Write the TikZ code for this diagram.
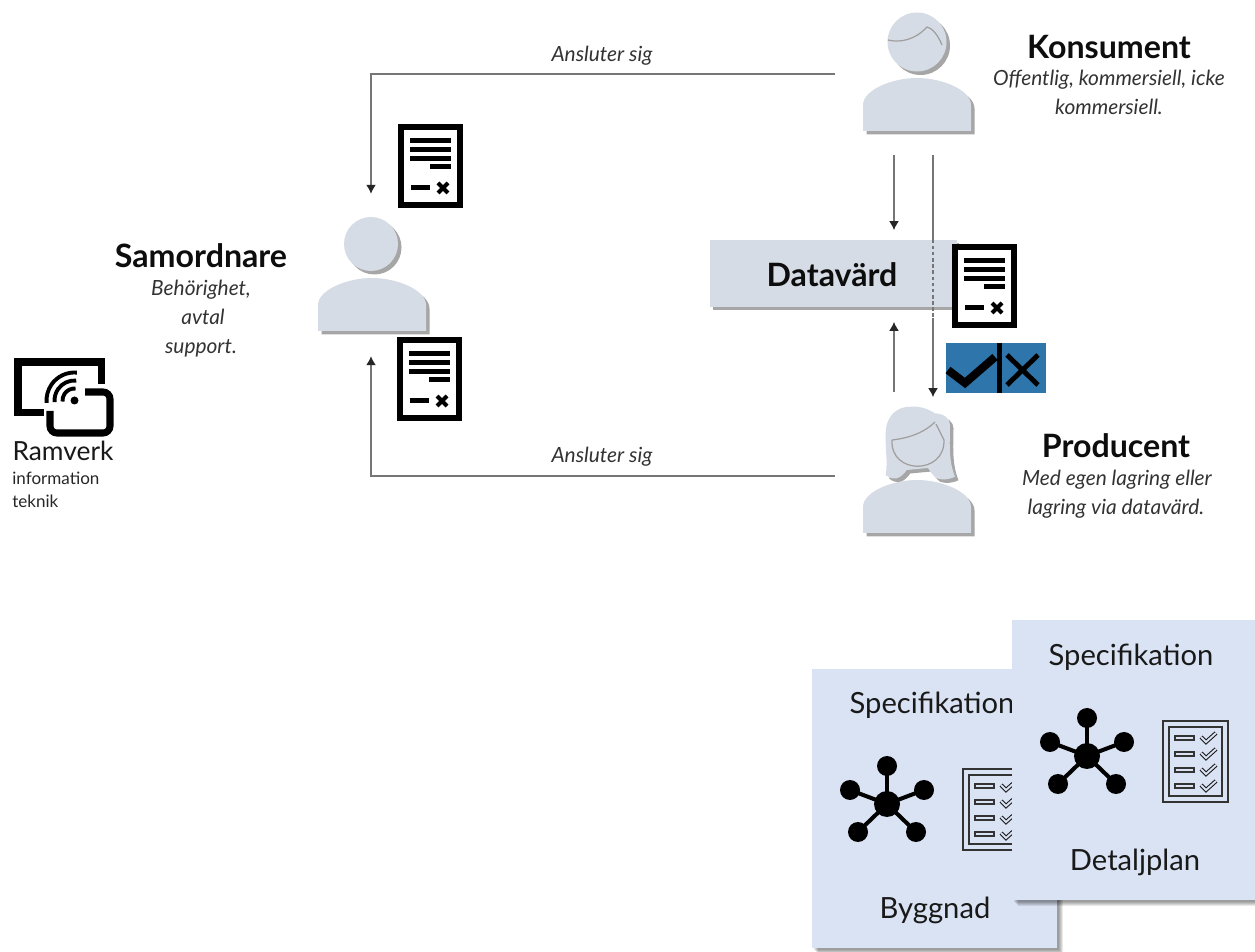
\documentclass[tikz,border=0pt]{standalone}
\usepackage{fontspec}
\setmainfont{Lato}
\usetikzlibrary{arrows.meta,calc,shadows}
\definecolor{personfill}{HTML}{D6DCE5}
\definecolor{panelfill}{HTML}{DAE3F3}
\definecolor{badgeblue}{HTML}{2E75AB}
\definecolor{flowgray}{HTML}{767676}
\tikzset{
    persondrop/.style={fill=personfill, drop shadow={shadow xshift=0.07cm, shadow yshift=-0.07cm, opacity=0.35, fill=black}},
    pics/body/.style={code={
        \fill[persondrop] (-54,53) -- (-54,27) .. controls (-54,12) and (-25,0) .. (0,0)
            .. controls (25,0) and (54,12) .. (54,27) -- (54,53) -- cycle;
    }},
    pics/docicon/.style={code={
        \draw[line width=3.4pt, fill=white] (3,3) rectangle (62,81);
        \foreach \y in {14,23,32} {
            \fill (12,\y) rectangle (53,\y+5);
        }
        \fill (32,40) rectangle (53,45);
        \fill (13,61) rectangle (32,66);
        \draw[line width=2.4pt] (40,59) -- (50,69);
        \draw[line width=2.4pt] (40,69) -- (50,59);
    }},
    pics/hubicon/.style={code={
        \foreach \x/\y in {0/-38, -37/-14, 37/-14, -29/28, 29/28} {
            \draw[line width=2.3pt] (0,0) -- (\x,\y);
            \fill (\x,\y) circle (10);
        }
        \fill (0,0) circle (13);
    }},
    pics/listicon/.style={code={
        \draw[black!80, line width=0.6pt] (0,0) rectangle (65,81);
        \draw[black!80, line width=0.8pt] (6,6) rectangle (59,75);
        % rows of the list
        \foreach \y in {17,33,49,65} {
            \draw[black!80, line width=0.6pt] (12,\y-2) rectangle (31,\y+2);
            \draw[black!90, line width=2.3pt] (38,\y-1) -- (43,\y+4) -- (53,\y-5);
            \draw[panelfill, line width=1.1pt] (38,\y-1) -- (43,\y+4) -- (53,\y-5);
        }
    }},
    flow/.style={flowgray, line width=0.6pt},
    flowtip/.style={flow, -{Latex[length=5pt, width=5.5pt, black!85]}},
    personbox/.style={inner sep=0pt, minimum width=3.28cm, minimum height=3.24cm},
    role/.style={font=\bfseries\fontsize{18.3}{18.3}\selectfont, text=black!95},
    rolenote/.style={font=\itshape\fontsize{11.9}{11.9}\selectfont, text=black!80, text height=8pt, text depth=3pt, yshift=-1.6pt},
    speclabel/.style={font=\fontsize{16.6}{16.6}\selectfont, text=black!90},
    ramverknote/.style={anchor=west, inner sep=0pt, font=\fontsize{9.7}{9.7}\selectfont, text=black!85},
}
\begin{document}
\begin{tikzpicture}[x=0.02cm, y=-0.02cm]
    \clip (0,0) rectangle (1255,952);
    \fill[white] (0,0) rectangle (1255,952);

    % Konsument
    \fill[persondrop] (917,42) circle (29.5);
    \draw[gray!75, line width=0.7pt] (888,40) .. controls (900,43) and (915,40) .. (927,27) .. controls (932,28) and (938,35) .. (942,45);
    \pic at (917,78) {body};
    \node[personbox] (konsument) at (917,74) {};
    \node[role] (konsumentName) at (1109,47) {Konsument};
    \node[rolenote] (konsumentNoteA) at (1109,78) {Offentlig, kommersiell, icke};
    \node[rolenote] (konsumentNoteB) at (1109,107) {kommersiell.};

    % Producent
    \fill[persondrop] (885.7,475) .. controls (888,460) and (885,450) .. (885.7,433)
        .. controls (886,415) and (898,406) .. (911.7,406.7) .. controls (920,406) and (928,409) .. (935,413.3)
        .. controls (944,414) and (950,418) .. (950,425) .. controls (950,440) and (948,460) .. (955,476.7)
        .. controls (948,480) and (942,480) .. (936.7,478.3) .. controls (933,476) and (931,472) .. (928,468)
        -- (906.7,470) .. controls (904,474) and (901,477) .. (896.7,478.3) .. controls (893,479) and (889,478) .. (885.7,475) -- cycle;
    \draw[gray!75, line width=0.7pt] (892,440) .. controls (910,438) and (925,432) .. (935,422);
    \draw[gray!75, line width=0.7pt] (892,440) .. controls (890,475) and (945,475) .. (944,440) -- (936,424);
    \pic at (917,480) {body};
    \node[personbox, minimum height=3.36cm] (producent) at (917,476) {};
    \node[role] (producentName) at (1116,446) {Producent};
    \node[rolenote] (producentNoteA) at (1117,478) {Med egen lagring eller};
    \node[rolenote] (producentNoteB) at (1116,507) {lagring via datavärd.};

    % Samordnare
    \fill[persondrop] (371,244) circle (27);
    \pic at (372,278) {body};
    \node[personbox, minimum width=2.2cm] (samordnare) at (371,275) {};
    \node[role] (samordnareName) at (201,256) {Samordnare};
    \node[rolenote] (samordnareNoteA) at (201,288) {Behörighet,};
    \node[rolenote] (samordnareNoteB) at (203,317) {avtal};
    \node[rolenote] (samordnareNoteC) at (201,346) {support.};

    % Datavärd
    \node[rectangle, fill=personfill, inner sep=0pt, minimum width=4.94cm, minimum height=1.34cm,
        drop shadow={shadow xshift=0.05cm, shadow yshift=-0.06cm, opacity=0.35, fill=black}] (datavard) at (833.5,273.5) {};
    \node[role] (datavardName) at (832,275) {Datavärd};

    % Connectors
    \draw[flowtip] (konsument.west) -| (samordnare.north);
    \draw[flowtip] (producent.west) -| (samordnare.south);
    \node[rolenote] (ansluterTop) at (602,54) {Ansluter sig};
    \node[rolenote] (ansluterBottom) at (602,455) {Ansluter sig};
    \coordinate (dvIn) at (894,230);
    \coordinate (dvOut) at (894,322);
    \coordinate (prodIn) at (933,397);
    \coordinate (prodDash) at (933,318);
    \draw[flowtip] (konsument.south -| dvIn) -- (dvIn);
    \draw[flowtip] (producent.north -| dvOut) -- (dvOut);
    \draw[flow] (konsument.south -| prodIn) -- (datavard.north -| prodIn);
    \draw[flow, dash pattern=on 2pt off 1.5pt] (datavard.north -| prodIn) -- (prodDash);
    \draw[flowtip] (prodDash) -- (prodIn);

    % Avtal icons
    \pic at (398,124) {docicon};
    \pic at (397,337) {docicon};
    \pic at (952,244) {docicon};

    % Approve or reject badge
    \fill[badgeblue] (946,343) rectangle (1046,393);
    \draw[line width=4.6pt] (948,370) -- (965,383) -- (995,357);
    \fill (997,343) rectangle (1002,393);
    \draw[line width=2.8pt] (1007,355) -- (1038,385);
    \draw[line width=2.8pt] (1007,385) -- (1038,355);

    % Ramverk
    \draw[line width=4.4pt] (44,412.5) -- (18,412.5) -- (18,362) -- (101.5,362) -- (101.5,384);
    \draw[line width=4pt, rounded corners=4pt] (85,392) -- (110,392) -- (110,433) -- (50,433) -- (50,411);
    \fill (74.5,400.5) circle (4);
    \foreach \r in {12,20,28} {
        \draw[line width=2.2pt] (74.5,400.5) ++(-85:\r) arc (-85:-185:\r);
    }
    \node[font=\fontsize{15}{15}\selectfont, text=black!90] (ramverk) at (63,451) {Ramverk};
    \node[ramverknote] (ramverkA) at (12,478) {information};
    \node[ramverknote] (ramverkB) at (12,501) {teknik};

    % Byggnad
    \foreach \d in {2,3,4,5,6} {
        \fill[black, opacity=0.09] (812+\d,669+\d) rectangle (1057+\d,948+\d);
    }
    \fill[panelfill] (812,669) rectangle (1057,948);
    \node[speclabel] (specByggnad) at (932,705) {Specifikation};
    \pic at (887,804) {hubicon};
    \pic at (963,769) {listicon};
    \node[speclabel] (byggnad) at (935,910) {Byggnad};

    % Detaljplan
    \foreach \d in {2,3,4,5,6} {
        \fill[black, opacity=0.09] (1012+\d,620+\d) rectangle (1257+\d,900+\d);
    }
    \fill[panelfill] (1012,620) rectangle (1257,900);
    \node[speclabel] (specDetaljplan) at (1131,657) {Specifikation};
    \pic at (1087,756) {hubicon};
    \pic at (1163,721) {listicon};
    \node[speclabel] (detaljplan) at (1135,862) {Detaljplan};
\end{tikzpicture}
\end{document}
